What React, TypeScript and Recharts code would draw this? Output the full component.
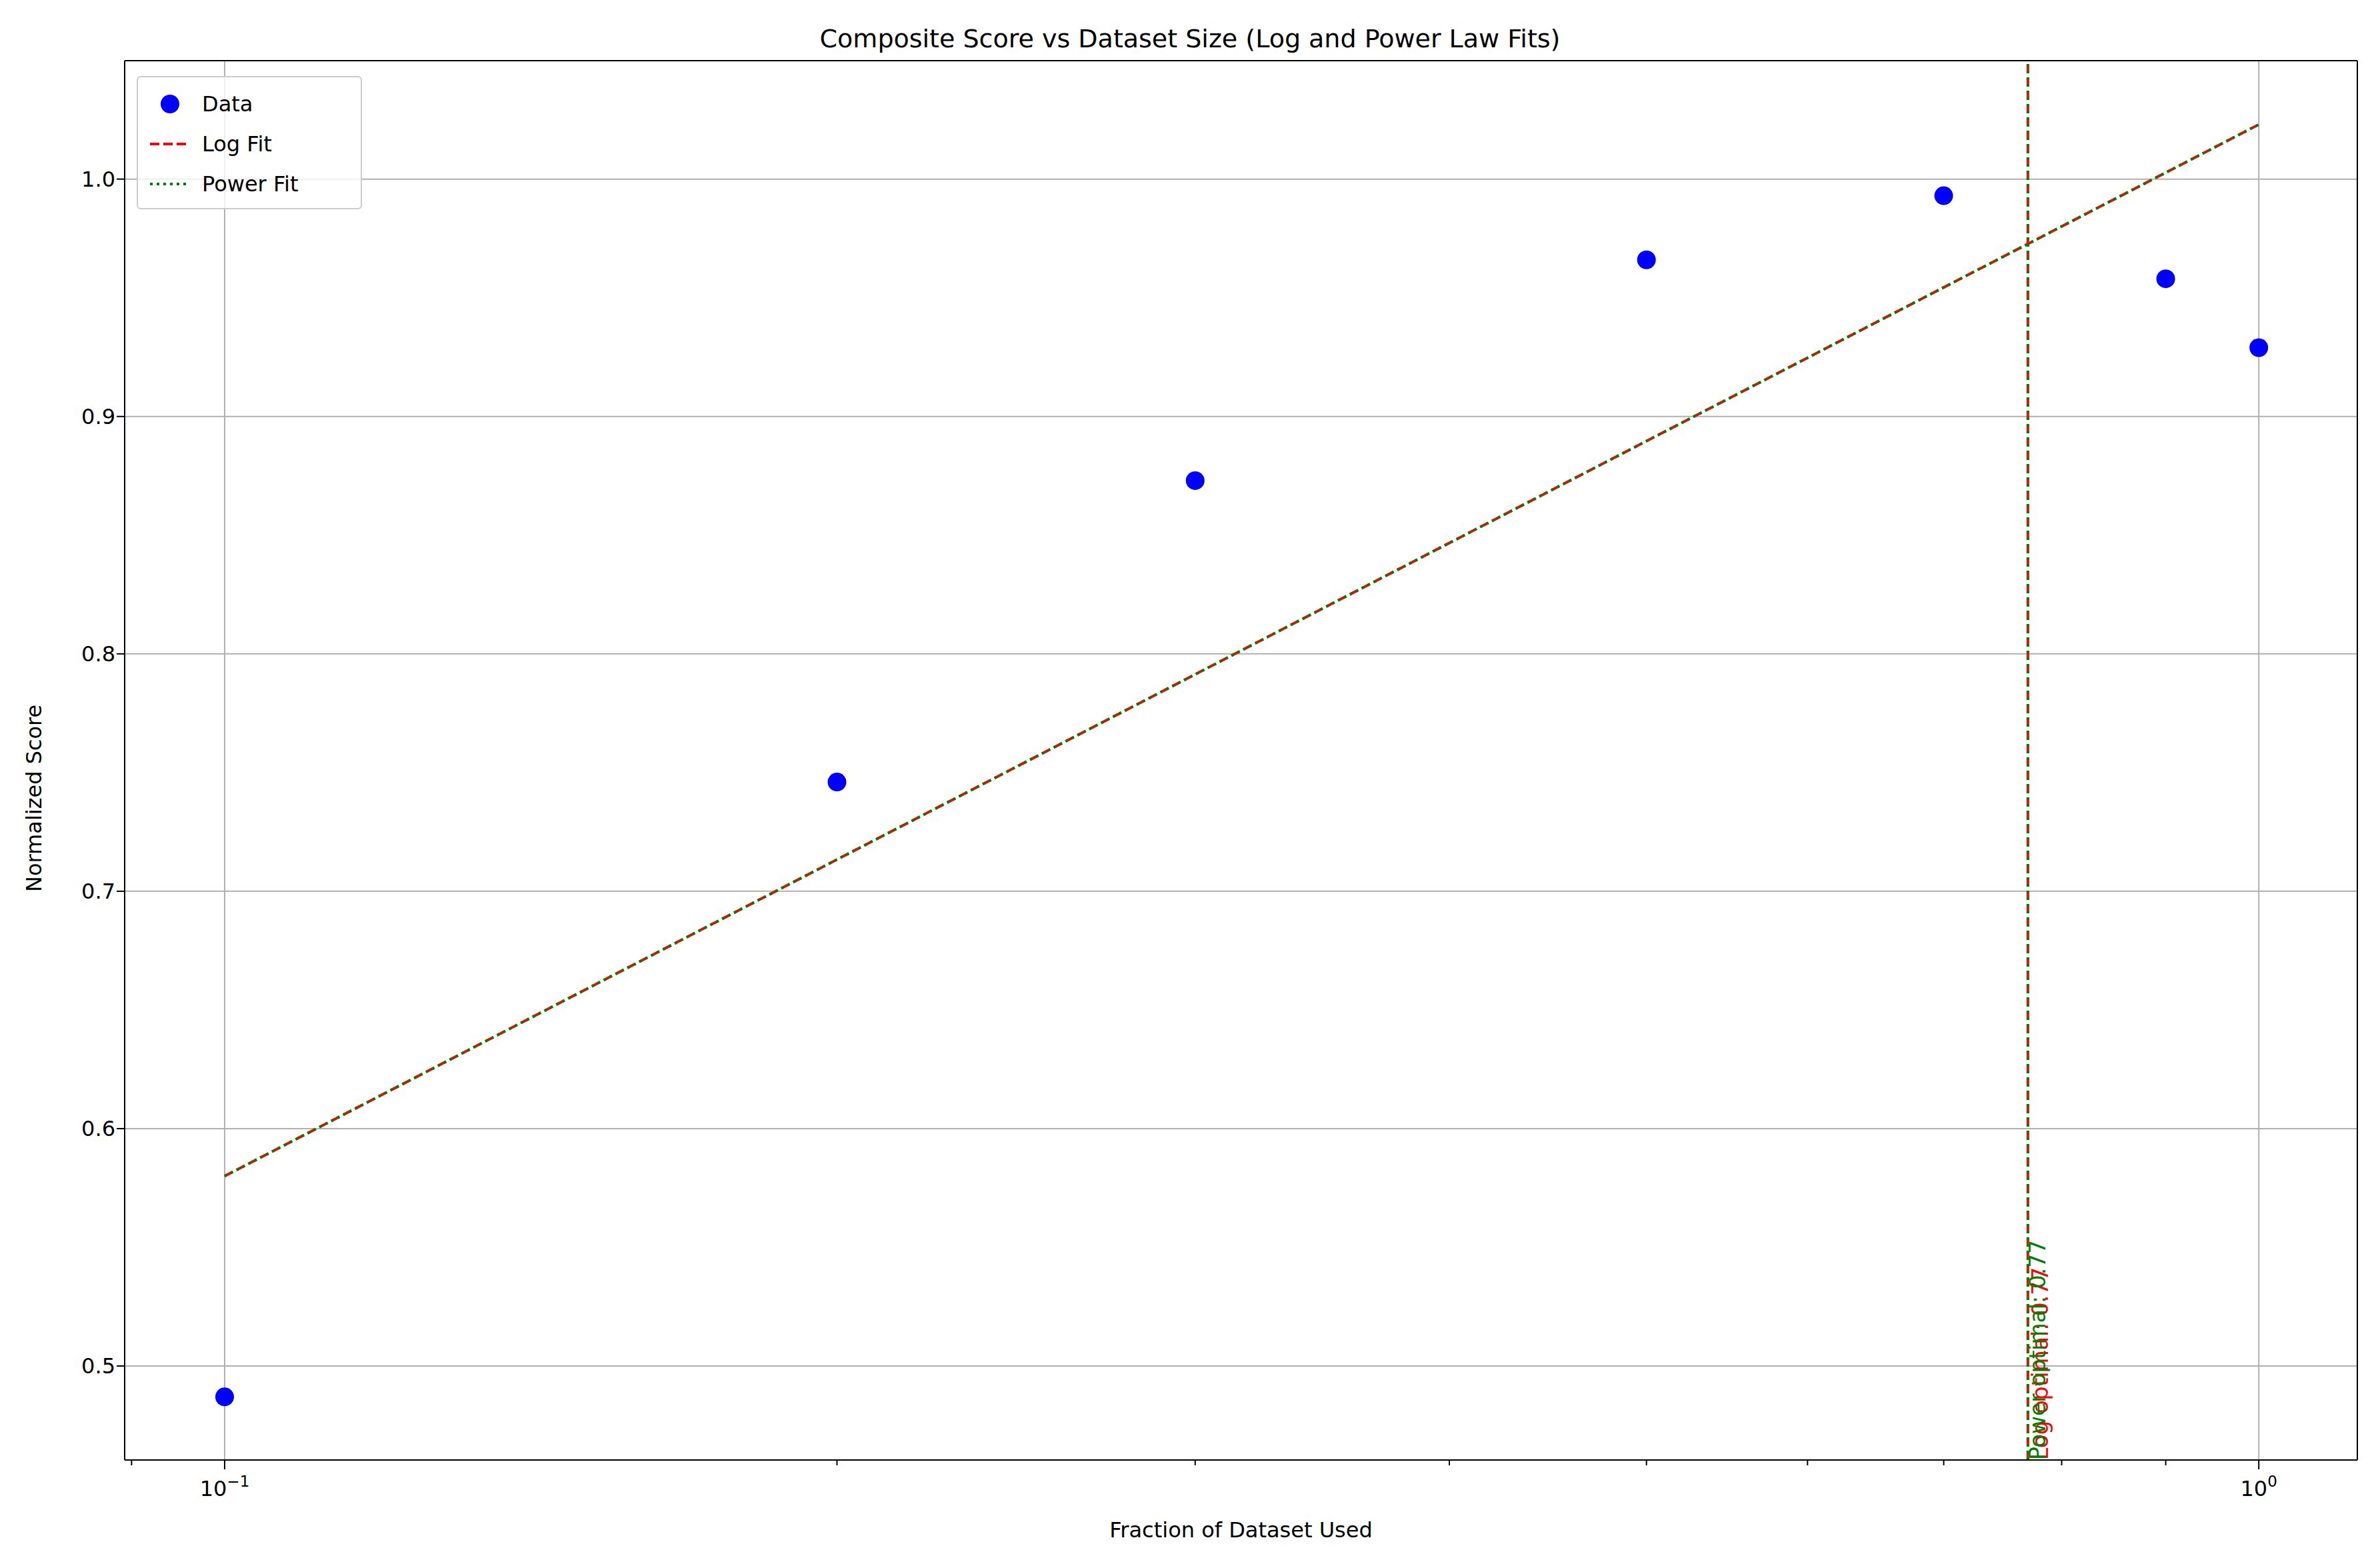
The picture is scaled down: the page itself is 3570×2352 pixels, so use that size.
import React from 'react';
import {
  ComposedChart,
  Line,
  Scatter,
  XAxis,
  YAxis,
  CartesianGrid,
  ReferenceLine
} from 'recharts';

// observed points
const fractions = [0.1, 0.2, 0.3, 0.5, 0.7, 0.9, 1.0];
const scores = [0.487, 0.746, 0.873, 0.966, 0.993, 0.958, 0.929];

// fit endpoints (straight on log axis)
const fitX = [0.1, 1.0];
const logFit = [0.58, 1.023];
const powerFit = [0.58, 1.023];

const optimal = 0.77;
const xTicks = [0.09, 0.1, 0.2, 0.3, 0.4, 0.5, 0.6, 0.7, 0.8, 0.9, 1.0];
const yTicks = [0.5, 0.6, 0.7, 0.8, 0.9, 1.0];

const points = fractions.map((x, i) => ({ x, score: scores[i] }));
const fitData = fitX.map((x, i) => ({ x, logFit: logFit[i], powerFit: powerFit[i] }));

const FONT = 'DejaVu Sans, sans-serif';

const XTick = (props: any) => {
  const { x, y, payload } = props;
  const v = payload.value;
  const major = v === 0.1 || v === 1.0;
  return (
    <g>
      <line x1={x} x2={x} y1={y - 8} y2={y - 8 + (major ? 14 : 8)} stroke="#000" strokeWidth={2} />
      {v === 0.1 && (
        <text x={x} y={y + 46} textAnchor="middle" fontSize={32} fontFamily={FONT}>
          10<tspan dy={-14} fontSize={23}>−1</tspan>
        </text>
      )}
      {v === 1.0 && (
        <text x={x} y={y + 46} textAnchor="middle" fontSize={32} fontFamily={FONT}>
          10<tspan dy={-14} fontSize={23}>0</tspan>
        </text>
      )}
    </g>
  );
};

const VLabel = (props: any) => {
  const { viewBox } = props;
  const bx = viewBox.x;
  const by = viewBox.y + viewBox.height;
  return (
    <g fontSize={33} fontFamily={FONT}>
      <text x={bx + 30} y={by} transform={`rotate(-90 ${bx + 30} ${by})`} fill="red">Log optimal: 0.77</text>
      <text x={bx + 26} y={by} transform={`rotate(-90 ${bx + 26} ${by})`} fill="green">Power optimal: 0.77</text>
    </g>
  );
};

const LegendBox = () => (
  <div style={{ position: 'absolute', left: 197, top: 106, width: 338, height: 200, border: '2px solid #ccc', borderRadius: 6, background: 'rgba(255,255,255,0.8)', fontFamily: FONT, fontSize: 32, boxSizing: 'border-box', padding: '10px 0 0 18px' }}>
    {[
      { label: 'Data', kind: 'dot' },
      { label: 'Log Fit', kind: 'dash' },
      { label: 'Power Fit', kind: 'dotline' }
    ].map((e) => (
      <div key={e.label} style={{ display: 'flex', alignItems: 'center', height: 60 }}>
        <svg width={60} height={30} style={{ marginRight: 18 }}>
          {e.kind === 'dot' && <circle cx={30} cy={15} r={14} fill="blue" />}
          {e.kind === 'dash' && <line x1={0} x2={60} y1={15} y2={15} stroke="red" strokeWidth={4} strokeDasharray="14 6" />}
          {e.kind === 'dotline' && <line x1={0} x2={60} y1={15} y2={15} stroke="green" strokeWidth={4} strokeDasharray="4 6" />}
        </svg>
        <span>{e.label}</span>
      </div>
    ))}
  </div>
);

export default function App() {
  return (
    <div style={{ position: 'relative', width: 3554, height: 2336, background: '#fff', fontFamily: FONT }}>
      <div style={{ position: 'absolute', top: 28, width: '100%', textAlign: 'center', fontSize: 38 }}>
        Composite Score vs Dataset Size (Log and Power Law Fits)
      </div>
      <div style={{ position: 'absolute', left: 24, top: 1330, transform: 'rotate(-90deg)', transformOrigin: 'left top', fontSize: 32, whiteSpace: 'nowrap' }}>
        Normalized Score
      </div>
      <div style={{ position: 'absolute', top: 2268, left: 179, width: 3349, textAlign: 'center', fontSize: 32 }}>
        Fraction of Dataset Used
      </div>
      <ComposedChart
        width={3554}
        height={2336}
        margin={{ top: 83, right: 26, left: 0, bottom: 0 }}
      >
        <CartesianGrid vertical={false} stroke="#b0b0b0" strokeWidth={2} />
        <XAxis
          dataKey="x"
          type="number"
          scale="log"
          domain={[0.0893, 1.118]}
          ticks={xTicks}
          allowDataOverflow
          height={154}
          tick={<XTick />}
          tickLine={false}
          axisLine={{ stroke: '#000', strokeWidth: 2 }}
          interval={0}
        />
        <YAxis
          type="number"
          domain={[0.4604, 1.0499]}
          ticks={yTicks}
          allowDataOverflow
          width={179}
          tickFormatter={(v: number) => v.toFixed(1)}
          tick={{ fontSize: 32, fill: '#000', fontFamily: FONT }}
          tickLine={{ stroke: '#000', strokeWidth: 2 }}
          tickSize={12}
          axisLine={{ stroke: '#000', strokeWidth: 2 }}
        />
        <ReferenceLine x={0.1} stroke="#b0b0b0" strokeWidth={2} />
        <ReferenceLine x={1.0} stroke="#b0b0b0" strokeWidth={2} />
        <ReferenceLine y={1.0499} stroke="#000" strokeWidth={2} />
        <ReferenceLine x={1.118} stroke="#000" strokeWidth={2} />
        <Line data={fitData} dataKey="logFit" stroke="red" strokeWidth={4} strokeDasharray="14 6" dot={false} isAnimationActive={false} />
        <Line data={fitData} dataKey="powerFit" stroke="green" strokeWidth={4} strokeDasharray="4 6" dot={false} isAnimationActive={false} />
        <ReferenceLine x={optimal} stroke="red" strokeWidth={4} strokeDasharray="14 6" />
        <ReferenceLine x={optimal} stroke="green" strokeWidth={4} strokeDasharray="4 6" label={<VLabel />} />
        <Scatter data={points} dataKey="score" fill="blue" shape={(p: any) => <circle cx={p.cx} cy={p.cy} r={14} fill="blue" />} isAnimationActive={false} />
      </ComposedChart>
      <LegendBox />
    </div>
  );
}
